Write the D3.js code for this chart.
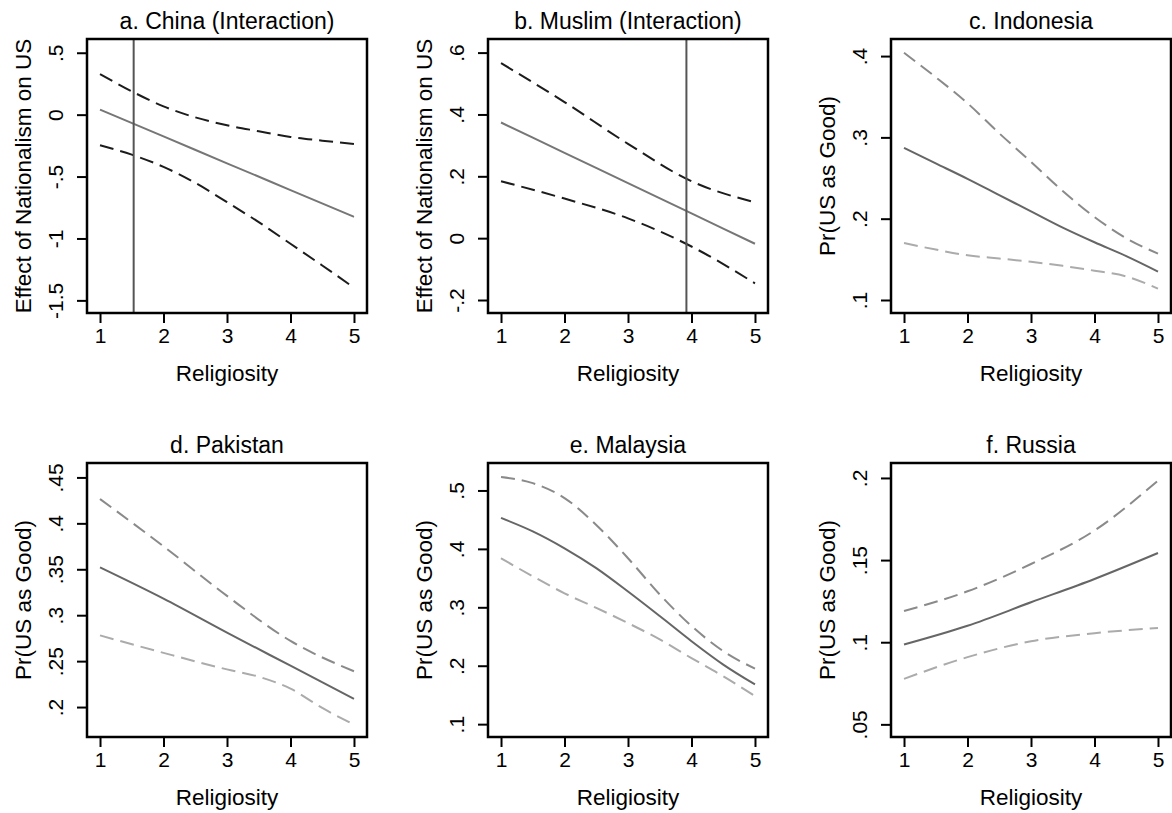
<!DOCTYPE html>
<html>
<head>
<meta charset="utf-8">
<script src="https://cdn.jsdelivr.net/npm/d3@7"></script>
<style>
  body { margin: 0; background: #fff; }
  svg text { font-family: "Liberation Sans", Arial, Helvetica, sans-serif; fill: #000; }
</style>
</head>
<body>
<svg id="chart" width="1172" height="813"></svg>
<script>
// x values (religiosity) used by the panels
const xInt = [1, 2, 3, 4, 5];
const xHalf = [1, 1.5, 2, 2.5, 3, 3.5, 4, 4.5, 5];
const xPakLower = [1, 2, 3, 3.5, 4, 4.5, 5];
const xTicks = [1, 2, 3, 4, 5];

// a. China (Interaction)
const chinaMid = [0.040, -0.176, -0.393, -0.609, -0.825];
const chinaUpper = [0.328, 0.188, 0.067, -0.022, -0.086, -0.134, -0.180, -0.210, -0.237];
const chinaLower = [-0.247, -0.323, -0.422, -0.551, -0.707, -0.868, -1.043, -1.218, -1.398];
const chinaCut = 1.53;
const chinaTicks = [-1.5, -1, -0.5, 0, 0.5];

// b. Muslim (Interaction)
const muslimMid = [0.374, 0.276, 0.178, 0.080, -0.018];
const muslimUpper = [0.566, 0.440, 0.305, 0.184, 0.116];
const muslimLower = [0.184, 0.128, 0.064, -0.027, -0.146];
const muslimCut = 3.92;
const muslimTicks = [-0.2, 0, 0.2, 0.4, 0.6];

// c. Indonesia
const indoMid = [0.287, 0.268, 0.249, 0.229, 0.209, 0.189, 0.171, 0.154, 0.135];
const indoUpper = [0.404, 0.374, 0.342, 0.305, 0.270, 0.234, 0.202, 0.176, 0.157];
const indoLower = [0.170, 0.162, 0.155, 0.151, 0.147, 0.142, 0.136, 0.129, 0.114];
const indoTicks = [0.1, 0.2, 0.3, 0.4];

// d. Pakistan
const pakMid = [0.352, 0.318, 0.281, 0.245, 0.209];
const pakUpper = [0.4265, 0.375, 0.321, 0.272, 0.239];
const pakLower = [0.278, 0.259, 0.241, 0.233, 0.220, 0.199, 0.181];
const pakTicks = [0.2, 0.25, 0.3, 0.35, 0.4, 0.45];

// e. Malaysia
const malMid = [0.453, 0.430, 0.401, 0.367, 0.327, 0.285, 0.242, 0.202, 0.168];
const malUpper = [0.523, 0.5125, 0.487, 0.441, 0.384, 0.322, 0.268, 0.225, 0.195];
const malLower = [0.384, 0.353, 0.324, 0.299, 0.273, 0.245, 0.213, 0.182, 0.148];
const malTicks = [0.1, 0.2, 0.3, 0.4, 0.5];

// f. Russia
const rusMid = [0.0986, 0.110, 0.1243, 0.1385, 0.1543];
const rusUpper = [0.119, 0.131, 0.1476, 0.168, 0.1984];
const rusLower = [0.0777, 0.0909, 0.1006, 0.1055, 0.1087];
const rusTicks = [0.05, 0.1, 0.15, 0.2];

const fmt = v => {
    if (v === 0) return "0";
    let s = String(+v.toFixed(3));
    return s.replace(/^(-?)0\./, "$1.");
};

const panels = [
    { title: "a. China (Interaction)", ytitle: "Effect of Nationalism on US", left: 87, top: 39, yDom: [-1.602, 0.611], ticks: chinaTicks,
      mid: [xInt, chinaMid], upper: [xHalf, chinaUpper], lower: [xHalf, chinaLower], cut: chinaCut,
      midColor: "#767676", upColor: "#1c1c1c", loColor: "#1c1c1c" },
    { title: "b. Muslim (Interaction)", ytitle: "Effect of Nationalism on US", left: 488, top: 39, yDom: [-0.242, 0.644], ticks: muslimTicks,
      mid: [xInt, muslimMid], upper: [xInt, muslimUpper], lower: [xInt, muslimLower], cut: muslimCut,
      midColor: "#767676", upColor: "#1c1c1c", loColor: "#1c1c1c" },
    { title: "c. Indonesia", ytitle: "Pr(US as Good)", left: 891, top: 39, yDom: [0.084, 0.421], ticks: indoTicks,
      mid: [xHalf, indoMid], upper: [xHalf, indoUpper], lower: [xHalf, indoLower],
      midColor: "#666", upColor: "#8a8a8a", loColor: "#ababab" },
    { title: "d. Pakistan", ytitle: "Pr(US as Good)", left: 87, top: 463, yDom: [0.1674, 0.4657], ticks: pakTicks,
      mid: [xInt, pakMid], upper: [xInt, pakUpper], lower: [xPakLower, pakLower],
      midColor: "#666", upColor: "#8a8a8a", loColor: "#ababab" },
    { title: "e. Malaysia", ytitle: "Pr(US as Good)", left: 488, top: 463, yDom: [0.078, 0.547], ticks: malTicks,
      mid: [xHalf, malMid], upper: [xHalf, malUpper], lower: [xHalf, malLower],
      midColor: "#666", upColor: "#8a8a8a", loColor: "#ababab" },
    { title: "f. Russia", ytitle: "Pr(US as Good)", left: 891, top: 463, yDom: [0.0423, 0.2091], ticks: rusTicks,
      mid: [xInt, rusMid], upper: [xInt, rusUpper], lower: [xInt, rusLower],
      midColor: "#666", upColor: "#8a8a8a", loColor: "#ababab" }
];

const W = 280, H = 274;
const tickFS = 21, axisFS = 22.5, titleFS = 23;
const svg = d3.select("#chart");

panels.forEach(p => {
    const g = svg.append("g").attr("transform", `translate(${p.left},${p.top})`);
    const x = d3.scaleLinear().domain([0.795, 5.205]).range([0, W]);
    const y = d3.scaleLinear().domain(p.yDom).range([H, 0]);

    const line = d3.line().x(d => x(d[0])).y(d => y(d[1])).curve(d3.curveMonotoneX);
    const pts = s => s[0].map((v, i) => [v, s[1][i]]);

    g.append("path").datum(pts(p.upper)).attr("d", line)
        .attr("fill", "none").attr("stroke", p.upColor).attr("stroke-width", 2).attr("stroke-dasharray", "14,7");
    g.append("path").datum(pts(p.lower)).attr("d", line)
        .attr("fill", "none").attr("stroke", p.loColor).attr("stroke-width", 2).attr("stroke-dasharray", "14,7");
    g.append("path").datum(pts(p.mid)).attr("d", line)
        .attr("fill", "none").attr("stroke", p.midColor).attr("stroke-width", 2);

    if (p.cut !== undefined) {
        g.append("line").attr("x1", x(p.cut)).attr("x2", x(p.cut)).attr("y1", 0).attr("y2", H)
            .attr("stroke", "#555").attr("stroke-width", 2);
    }

    // frame
    g.append("rect").attr("width", W).attr("height", H)
        .attr("fill", "none").attr("stroke", "#000").attr("stroke-width", 2.5);

    // x axis
    const xa = g.append("g").attr("transform", `translate(0,${H})`)
        .call(d3.axisBottom(x).tickValues(xTicks).tickSize(10).tickPadding(5).tickFormat(d3.format("d")));
    xa.select(".domain").remove();
    xa.selectAll("line").attr("stroke", "#000").attr("stroke-width", 2);
    xa.selectAll("text").attr("font-size", tickFS).attr("fill", "#000");

    // y axis, rotated labels
    const ya = g.append("g")
        .call(d3.axisLeft(y).tickValues(p.ticks).tickSize(10).tickFormat(fmt));
    ya.select(".domain").remove();
    ya.selectAll("line").attr("stroke", "#000").attr("stroke-width", 2);
    ya.selectAll("text")
        .attr("x", null).attr("dy", null)
        .attr("transform", "translate(-24,0) rotate(-90)")
        .attr("text-anchor", "middle")
        .attr("font-size", tickFS).attr("fill", "#000");

    g.append("text").attr("x", W / 2).attr("y", -10)
        .attr("text-anchor", "middle").attr("font-size", titleFS).text(p.title);
    g.append("text").attr("x", W / 2).attr("y", H + 68)
        .attr("text-anchor", "middle").attr("font-size", axisFS).text("Religiosity");
    g.append("text").attr("transform", `translate(-56,${H / 2}) rotate(-90)`)
        .attr("text-anchor", "middle").attr("font-size", axisFS).text(p.ytitle);
});
</script>
</body>
</html>
